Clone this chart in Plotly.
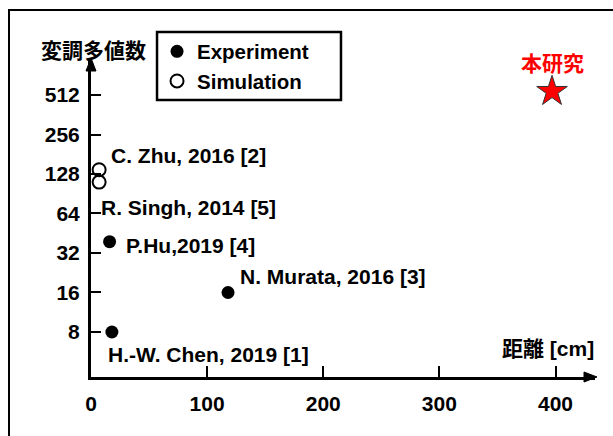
import plotly.graph_objects as go
import math

# Data
exp_names = ["H.-W. Chen, 2019 [1]", "P.Hu,2019 [4]", "N. Murata, 2016 [3]"]
exp_x = [18, 16, 118]
exp_y = [8, 39, 16]

sim_names = ["C. Zhu, 2016 [2]", "R. Singh, 2014 [5]"]
sim_x = [7, 7]
sim_y = [138, 111]

this_name = "本研究"
this_x = [397]
this_y = [545]

y_ticks = [8, 16, 32, 64, 128, 256, 512]
x_ticks = [0, 100, 200, 300, 400]

# label offsets (pixels) relative to the marks
exp_shift = [(-6, -23), (14, -4), (10, 16)]
sim_shift = [(10, 14), (0, -25)]

FONT = "Liberation Sans, Arial, Noto Sans CJK JP"
FS = 21

fig = go.Figure()
fig.add_trace(go.Scatter(
    x=exp_x, y=exp_y, mode="markers", name="<b>Experiment</b>",
    marker=dict(symbol="circle", size=13, color="black"),
))
fig.add_trace(go.Scatter(
    x=sim_x, y=sim_y, mode="markers", name="<b>Simulation</b>",
    marker=dict(symbol="circle-open", size=13, color="black", line=dict(width=2)),
))
fig.add_trace(go.Scatter(
    x=this_x, y=this_y, mode="markers", name=this_name, showlegend=False,
    marker=dict(symbol="star", size=23, color="red", line=dict(width=1, color="#333")),
))

anns = []
for n, x, y, (dx, dy) in zip(exp_names, exp_x, exp_y, exp_shift):
    anns.append(dict(x=x, y=math.log10(y), text="<b>%s</b>" % n, showarrow=False,
                     xanchor="left", yanchor="middle", xshift=dx, yshift=dy))
for n, x, y, (dx, dy) in zip(sim_names, sim_x, sim_y, sim_shift):
    anns.append(dict(x=x, y=math.log10(y), text="<b>%s</b>" % n, showarrow=False,
                     xanchor="left", yanchor="middle", xshift=dx, yshift=dy))
anns.append(dict(x=this_x[0], y=math.log10(this_y[0]), text="<b>%s</b>" % this_name,
                 showarrow=False, xanchor="center", yanchor="middle", yshift=28,
                 font=dict(color="red", size=FS, family=FONT)))
anns.append(dict(x=1, y=0, xref="paper", yref="paper", text="<b>距離 [cm]</b>",
                 showarrow=False, xanchor="right", yanchor="middle", xshift=1, yshift=29))
anns.append(dict(x=0, y=1, xref="paper", yref="paper", text="<b>変調多値数</b>",
                 showarrow=False, xanchor="center", yanchor="middle", xshift=2, yshift=10))

shapes = [
    # outer frame
    dict(type="rect", xref="paper", yref="paper", x0=-0.1627, x1=1.06, y0=-0.25, y1=1.1577,
         line=dict(color="black", width=2)),
    # legend box
    dict(type="rect", xref="paper", yref="paper", x0=0.131, x1=0.496, y0=0.874, y1=1.088,
         line=dict(color="black", width=2.5)),
    # arrow heads
    dict(type="path", xref="paper", yref="paper", xsizemode="pixel", ysizemode="pixel",
         xanchor=1, yanchor=0, path="M 2 0 L -11 5 L -11 -5 Z",
         fillcolor="black", line=dict(color="black", width=1)),
    dict(type="path", xref="paper", yref="paper", xsizemode="pixel", ysizemode="pixel",
         xanchor=0, yanchor=1, path="M 0 2 L -5 -11 L 5 -11 Z",
         fillcolor="black", line=dict(color="black", width=1)),
]

fig.update_layout(
    width=613, height=436,
    margin=dict(l=91, r=18, t=60, b=59),
    paper_bgcolor="white", plot_bgcolor="white",
    font=dict(family=FONT, size=FS, color="black"),
    showlegend=True,
    legend=dict(x=0.131, y=1.09, xanchor="left", yanchor="top",
                borderwidth=0, bgcolor="rgba(0,0,0,0)",
                font=dict(size=20.5, family=FONT), tracegroupgap=0,
                itemwidth=30),
    annotations=anns,
    shapes=shapes,
)
fig.update_xaxes(
    range=[0, 434], showgrid=False, zeroline=False,
    showline=True, linecolor="black", linewidth=3,
    ticks="inside", ticklen=11, tickwidth=2, tickcolor="black",
    tickvals=x_ticks, ticktext=["<b>%d</b>" % v for v in x_ticks],
    ticklabelstandoff=6,
)
fig.update_yaxes(
    type="log", range=[0.560, 2.976], showgrid=False, zeroline=False,
    showline=True, linecolor="black", linewidth=3,
    ticks="inside", ticklen=10, tickwidth=2, tickcolor="black",
    tickvals=y_ticks, ticktext=["<b>%d</b>" % v for v in y_ticks],
    ticklabelstandoff=4,
)

fig.write_html("out.html", config={"displayModeBar": False},
               post_script="document.body.style.margin='0';")
